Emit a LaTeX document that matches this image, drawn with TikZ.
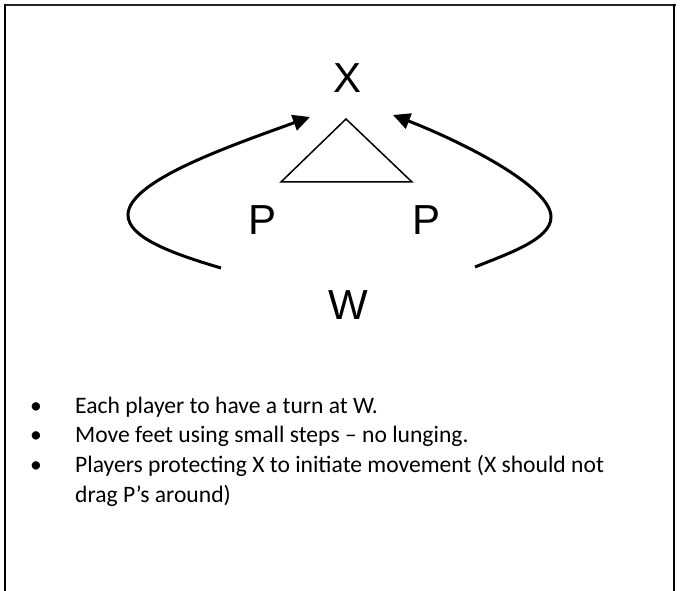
\documentclass[tikz,border=0pt]{standalone}
\usepackage{fontspec}
\setmainfont{Carlito}
\newfontfamily\arialfont{Liberation Sans}
\usetikzlibrary{arrows.meta}
\begin{document}
\begin{tikzpicture}[x=1pt,y=1pt,
  letter/.style={font=\arialfont\fontsize{42}{42}\selectfont, inner sep=0pt},
  movearrow/.style={line width=3pt, -{Triangle[length=17pt,width=16pt]}},
  bullettext/.style={font=\fontsize{23.6}{23.6}\selectfont, anchor=base west, inner sep=0pt},
  bulletmark/.style={font=\fontsize{23.6}{23.6}\selectfont, anchor=base, inner sep=0pt}]
\useasboundingbox (0,0) rectangle (681,591);
% frame
\draw[line width=1.4pt, black!85] (4,586) -- (676,586);
\draw[line width=2pt] (5,587) -- (5,0);
\draw[line width=2.5pt] (674,587) -- (674,0);
% letters
\node[letter] (X) at (348,513) {X};
\node[letter] (P1) at (263,371) {P};
\node[letter] (P2) at (427,371) {P};
\node[letter] (W) at (348,286) {W};
% triangle
\coordinate (ta) at (346,472);
\coordinate (tl) at (281,409);
\coordinate (tr) at (412,409);
\draw[line width=1.5pt, line join=miter] (ta) -- (tl) -- (tr) -- cycle;
% arrows
\coordinate (ls) at (221,323);
\coordinate (lm) at (128,376);
\coordinate (lt) at (310,474);
\coordinate (rs) at (475,324);
\coordinate (rm) at (551,374);
\coordinate (rt) at (393,476);
\draw[movearrow] (ls) .. controls (170,338) and (128,354) .. (lm)
  .. controls (128,410) and (230,445) .. (lt);
\draw[movearrow] (rs) .. controls (510,338) and (551,352) .. (rm)
  .. controls (551,405) and (460,450) .. (rt);
% bullets
\node[bulletmark] (b1) at (36,177) {•};
\node[bullettext] (t1) at (75,177) {Each player to have a turn at W.};
\node[bulletmark] (b2) at (36,148) {•};
\node[bullettext] (t2) at (75,148) {Move feet using small steps – no lunging.};
\node[bulletmark] (b3) at (36,118) {•};
\node[bullettext] (t3) at (75,118) {Players protecting X to initiate movement (X should not};
\node[bullettext] (t4) at (75,88) {drag P’s around)};
\end{tikzpicture}
\end{document}
